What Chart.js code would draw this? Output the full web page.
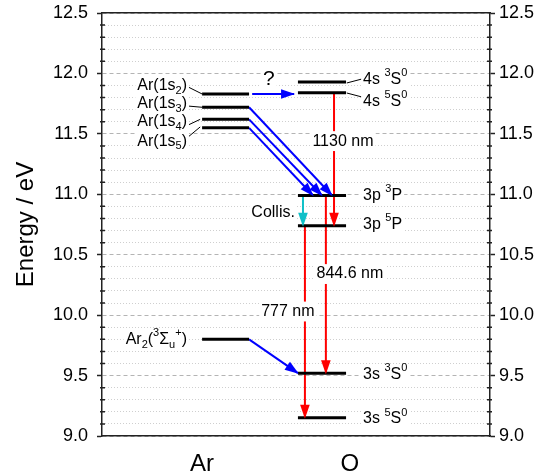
<!DOCTYPE html>
<html>
<head>
    <meta charset="utf-8">
    <title>Ar / O energy levels</title>
    <script src="https://cdn.jsdelivr.net/npm/chart.js"></script>
    <style>
        body { margin: 0; background: #fff; }
    </style>
</head>
<body>
    <canvas id="levels-chart" width="546" height="475"></canvas>

    <script>
        // energy axis (eV)
        const yMin = 9.0;
        const yMax = 12.5;

        // x axis runs 0..100, two columns
        const groupNames = ['Ar', 'O'];
        const groupPos = [25.8, 63.9];
        const arBar = [25.8, 37.9];
        const oBar = [50.5, 62.9];

        // Ar levels
        const arLevels = [11.83, 11.72, 11.62, 11.55, 9.80];
        const arLabels = ['Ar(1s_{2})', 'Ar(1s_{3})', 'Ar(1s_{4})', 'Ar(1s_{5})', 'Ar_{2}(^{3}Σ_{u}^{+})'];
        const arLabelE = [11.90, 11.75, 11.60, 11.44, 9.80];
        const arLabelX = 21.9;

        // O levels
        const oLevels = [11.93, 11.84, 10.99, 10.74, 9.52, 9.15];
        const oLabels = ['4s ^{3}S^{0}', '4s ^{5}S^{0}', '3p ^{3}P', '3p ^{5}P', '3s ^{3}S^{0}', '3s ^{5}S^{0}'];
        const oLabelE = [11.95, 11.77, 10.99, 10.75, 9.51, 9.14];
        const oLabelX = 67.3;

        // leader lines label -> level
        const leaderX0 = [22.2, 22.2, 22.2, 22.2, 63.1, 63.1];
        const leaderE0 = [11.888, 11.73, 11.573, 11.474, 11.921, 11.838];
        const leaderX1 = [25.8, 25.8, 25.3, 25.3, 67.0, 67.0];
        const leaderE1 = [11.83, 11.72, 11.62, 11.557, 11.954, 11.805];

        // transitions (from -> to)
        const arrowKind = ['transfer', 'transfer', 'transfer', 'transfer', 'transfer', 'emission', 'collision', 'emission', 'emission'];
        const arrowX0 = [38.7, 37.9, 37.9, 37.9, 37.9, 59.8, 51.8, 57.7, 52.3];
        const arrowE0 = [11.83, 11.72, 11.62, 11.55, 9.80, 11.84, 10.99, 10.99, 10.74];
        const arrowX1 = [49.5, 59.3, 56.7, 54.4, 50.5, 59.8, 51.8, 57.7, 52.3];
        const arrowE1 = [11.83, 10.99, 10.99, 10.99, 9.52, 10.74, 10.74, 9.52, 9.15];

        // notes on the transitions
        const noteText = ['?', '1130 nm', 'Collis.', '844.6 nm', '777 nm'];
        const noteX = [43.0, 62.1, 44.1, 63.9, 47.9];
        const noteE = [11.95, 11.44, 10.85, 10.34, 10.03];

        const FONT = "'Liberation Sans', Arial, sans-serif";
        const AXIS = '#222';
        const kindColor = { transfer: '#0000ff', emission: '#ff0000', collision: '#10c0c8' };

        function isMajor(v) {
            return Math.abs(v * 2 - Math.round(v * 2)) < 1e-6;
        }

        // datasets
        const datasets = [];
        const pt = (x, y) => ({ x: x, y: y });
        arLevels.forEach(E => datasets.push({
            data: [pt(arBar[0], E), pt(arBar[1], E)],
            borderColor: '#000', borderWidth: 3, pointRadius: 0, showLine: true
        }));
        oLevels.forEach(E => datasets.push({
            data: [pt(oBar[0], E), pt(oBar[1], E)],
            borderColor: '#000', borderWidth: 3, pointRadius: 0, showLine: true
        }));
        leaderX0.forEach((x, i) => datasets.push({
            data: [pt(x, leaderE0[i]), pt(leaderX1[i], leaderE1[i])],
            borderColor: '#000', borderWidth: 1, pointRadius: 0, showLine: true
        }));
        arrowKind.forEach((k, i) => datasets.push({
            data: [pt(arrowX0[i], arrowE0[i]), pt(arrowX1[i], arrowE1[i])],
            borderColor: kindColor[k], borderWidth: 2, pointRadius: 0, showLine: true,
            arrow: true
        }));

        // text with _{sub} and ^{sup}
        function richParts(str, size) {
            const parts = [];
            str.replace(/([_^])\{([^}]*)\}|([^_^]+)/g, (m, mode, inner, plain) => {
                if (plain !== undefined) parts.push({ t: plain, m: '' });
                else parts.push({ t: inner, m: mode });
                return m;
            });
            parts.forEach(p => { p.size = p.m ? Math.round(size * 0.68) : size; });
            return parts;
        }

        function layoutRich(ctx, str, x, align, size) {
            const parts = richParts(str, size);
            let w = 0;
            parts.forEach(p => {
                ctx.font = p.size + 'px ' + FONT;
                p.w = ctx.measureText(p.t).width;
                w += p.w;
            });
            const sx = align === 'right' ? x - w : align === 'center' ? x - w / 2 : x;
            return { parts: parts, sx: sx, w: w };
        }

        const labelPlugin = {
            id: 'levelLabels',
            afterDatasetsDraw(chart) {
                const { ctx, scales } = chart;
                const xs = scales.x, ys = scales.y;

                // arrowheads
                chart.data.datasets.forEach((ds, i) => {
                    if (!ds.arrow) return;
                    const pts = chart.getDatasetMeta(i).data;
                    const a = Math.atan2(pts[1].y - pts[0].y, pts[1].x - pts[0].x);
                    ctx.save();
                    ctx.translate(pts[1].x, pts[1].y);
                    ctx.rotate(a);
                    ctx.fillStyle = ds.borderColor;
                    ctx.beginPath();
                    ctx.moveTo(1, 0);
                    ctx.lineTo(-13, -4.8);
                    ctx.lineTo(-13, 4.8);
                    ctx.closePath();
                    ctx.fill();
                    ctx.restore();
                });

                const items = [];
                arLabels.forEach((s, i) => items.push({ s: s, x: arLabelX, e: arLabelE[i], align: 'right', size: 16 }));
                oLabels.forEach((s, i) => items.push({ s: s, x: oLabelX, e: oLabelE[i], align: 'left', size: 16 }));
                noteText.forEach((s, i) => items.push({ s: s, x: noteX[i], e: noteE[i], align: 'center', size: s === '?' ? 21 : 16 }));

                ctx.save();
                const laid = items.map(it => {
                    const px = xs.getPixelForValue(it.x);
                    const py = ys.getPixelForValue(it.e);
                    return Object.assign({ py: py }, it, layoutRich(ctx, it.s, px, it.align, it.size));
                });
                // white boxes first, then the text
                ctx.fillStyle = '#fff';
                laid.forEach(l => ctx.fillRect(l.sx - 2, l.py - l.size * 0.62, l.w + 4, l.size * 1.24));
                ctx.fillStyle = '#000';
                ctx.textBaseline = 'middle';
                ctx.textAlign = 'left';
                laid.forEach(l => {
                    let cx = l.sx;
                    l.parts.forEach(p => {
                        const dy = p.m === '_' ? l.size * 0.33 : p.m === '^' ? -l.size * 0.38 : 0;
                        ctx.font = p.size + 'px ' + FONT;
                        ctx.fillText(p.t, cx, l.py + dy);
                        cx += p.w;
                    });
                });
                ctx.restore();
            },
            afterDraw(chart) {
                // short minor ticks on both energy axes
                const { ctx, chartArea, scales } = chart;
                ctx.save();
                ctx.strokeStyle = AXIS;
                ctx.lineWidth = 1.5;
                scales.y2.ticks.forEach(t => {
                    if (isMajor(t.value)) return;
                    const py = scales.y2.getPixelForValue(t.value);
                    ctx.beginPath();
                    ctx.moveTo(chartArea.left - 2, py);
                    ctx.lineTo(chartArea.left + 3, py);
                    ctx.moveTo(chartArea.right - 3, py);
                    ctx.lineTo(chartArea.right + 2, py);
                    ctx.stroke();
                });
                ctx.restore();
            }
        };

        Chart.defaults.font.family = FONT;

        new Chart(document.getElementById('levels-chart').getContext('2d'), {
            type: 'scatter',
            data: { datasets: datasets },
            options: {
                responsive: false,
                animation: false,
                devicePixelRatio: 1,
                layout: { padding: { top: 13, left: 0, right: 0, bottom: 0 } },
                plugins: {
                    legend: { display: false },
                    tooltip: { enabled: false }
                },
                scales: {
                    x: {
                        type: 'linear',
                        position: 'bottom',
                        min: 0,
                        max: 100,
                        grid: { display: false, drawTicks: false },
                        border: { color: AXIS, width: 1.5 },
                        ticks: {
                            font: { size: 24 },
                            color: '#000',
                            padding: 14,
                            autoSkip: false,
                            maxRotation: 0,
                            callback: (v, i) => groupNames[i]
                        },
                        afterBuildTicks: s => { s.ticks = groupPos.map(v => ({ value: v })); },
                        afterFit: s => { s.height = 39; s.paddingLeft = 0; s.paddingRight = 0; }
                    },
                    x2: {
                        type: 'linear',
                        position: 'top',
                        min: 0,
                        max: 100,
                        grid: { display: false, drawTicks: false },
                        ticks: { display: false },
                        border: { color: AXIS, width: 1.5 },
                        afterFit: s => { s.height = 0; s.paddingLeft = 0; s.paddingRight = 0; }
                    },
                    y: {
                        type: 'linear',
                        position: 'left',
                        min: yMin,
                        max: yMax,
                        ticks: {
                            stepSize: 0.5,
                            font: { size: 18 },
                            color: '#000',
                            padding: 9,
                            callback: v => v.toFixed(1)
                        },
                        grid: { color: '#b4b4b4', lineWidth: 1, tickColor: AXIS, tickLength: 5, tickWidth: 1.5 },
                        border: { color: AXIS, width: 1.5, dash: [4, 3] },
                        title: {
                            display: true,
                            text: 'Energy / eV',
                            font: { size: 24 },
                            color: '#000',
                            padding: { top: 12, bottom: 0 }
                        },
                        afterFit: s => { s.width = 102; s.paddingTop = 0; s.paddingBottom = 0; }
                    },
                    y2: {
                        type: 'linear',
                        position: 'right',
                        min: yMin,
                        max: yMax,
                        ticks: {
                            stepSize: 0.1,
                            autoSkip: false,
                            font: { size: 18 },
                            color: '#000',
                            padding: 4,
                            callback: v => isMajor(v) ? v.toFixed(1) : ''
                        },
                        grid: {
                            color: c => (c.tick && isMajor(c.tick.value)) ? 'rgba(0,0,0,0)' : '#cfcfcf',
                            lineWidth: 1,
                            tickColor: c => (c.tick && isMajor(c.tick.value)) ? AXIS : 'rgba(0,0,0,0)',
                            tickLength: 5,
                            tickWidth: 1.5
                        },
                        border: { color: AXIS, width: 1.5, dash: [1, 2] },
                        afterFit: s => { s.width = 56; s.paddingTop = 0; s.paddingBottom = 0; }
                    }
                }
            },
            plugins: [labelPlugin]
        });
    </script>
</body>
</html>
